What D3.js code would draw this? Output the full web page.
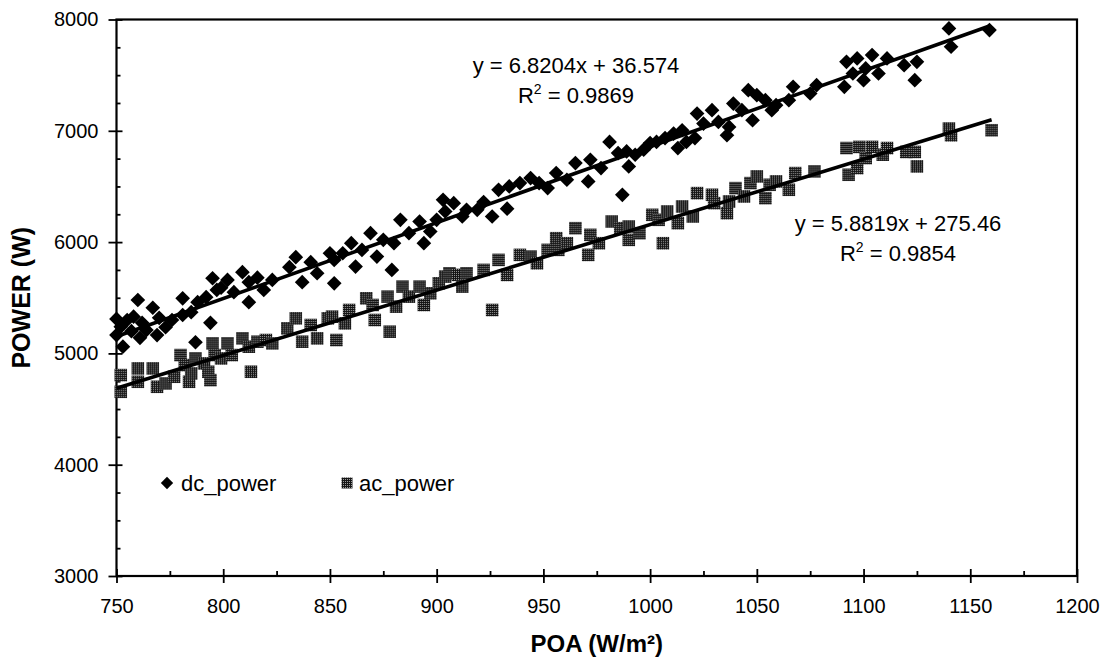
<!DOCTYPE html>
<html>
<head>
<meta charset="utf-8">
<script src="https://cdn.jsdelivr.net/npm/d3@7"></script>
<style>
  body { margin: 0; background: #fff; }
  svg { display: block; font-family: "Liberation Sans", Arial, sans-serif; }
</style>
</head>
<body>
<div id="chart"></div>
<script>
// dc_power readings (POA, W)
const dcPoa = [750, 750, 753, 752, 755, 757, 758, 760, 761, 762, 764, 767, 769, 770, 773, 776, 781, 781, 785, 787, 788, 792, 794, 795, 797, 799, 802, 805, 809, 812, 812, 816, 819, 823, 831, 834, 837, 841, 844, 850, 852, 852, 856, 860, 862, 865, 869, 872, 875, 879, 880, 883, 887, 892, 894, 897, 900, 903, 904, 908, 912, 914, 919, 922, 926, 929, 933, 934, 939, 944, 948, 952, 956, 961, 965, 971, 972, 977, 981, 985, 987, 989, 990, 993, 997, 1000, 1003, 1007, 1011, 1013, 1015, 1017, 1021, 1022, 1025, 1029, 1032, 1036, 1037, 1039, 1043, 1046, 1048, 1050, 1054, 1057, 1059, 1065, 1067, 1075, 1078, 1091, 1092, 1095, 1097, 1100, 1101, 1104, 1107, 1111, 1119, 1124, 1125, 1140, 1141, 1159]
const dcPower = [5310, 5165, 5060, 5240, 5300, 5200, 5330, 5480, 5140, 5275, 5210, 5410, 5165, 5320, 5235, 5300, 5495, 5345, 5370, 5100, 5460, 5505, 5275, 5675, 5570, 5590, 5660, 5550, 5730, 5640, 5460, 5680, 5570, 5660, 5775, 5865, 5640, 5820, 5720, 5900, 5630, 5840, 5900, 5990, 5780, 5930, 6080, 5870, 6020, 5750, 5990, 6200, 6080, 6185, 5990, 6095, 6200, 6380, 6275, 6350, 6230, 6290, 6290, 6360, 6230, 6470, 6300, 6500, 6530, 6575, 6530, 6485, 6620, 6560, 6710, 6545, 6740, 6665, 6900, 6800, 6425, 6815, 6680, 6785, 6830, 6890, 6900, 6935, 6975, 6845, 7005, 6900, 6935, 7155, 7065, 7185, 7080, 6960, 7035, 7245, 7185, 7365, 7095, 7320, 7275, 7185, 7230, 7275, 7395, 7335, 7410, 7395, 7620, 7515, 7650, 7455, 7560, 7680, 7515, 7650, 7590, 7455, 7620, 7920, 7755, 7905]

// ac_power readings (POA, W)
const acPoa = [752, 752, 760, 760, 767, 769, 773, 777, 780, 782, 784, 785, 787, 791, 793, 794, 795, 796, 799, 802, 804, 809, 812, 813, 816, 820, 823, 830, 834, 837, 841, 844, 849, 851, 853, 857, 859, 867, 870, 871, 877, 878, 881, 884, 887, 892, 894, 897, 901, 904, 906, 910, 912, 914, 922, 926, 929, 933, 939, 944, 947, 952, 956, 957, 961, 965, 971, 972, 976, 982, 986, 990, 990, 995, 1001, 1004, 1006, 1008, 1013, 1015, 1020, 1022, 1029, 1030, 1036, 1037, 1040, 1044, 1047, 1050, 1054, 1056, 1059, 1065, 1068, 1077, 1092, 1093, 1097, 1098, 1101, 1104, 1109, 1111, 1120, 1124, 1125, 1140, 1141, 1160]
const acPower = [4805, 4655, 4865, 4745, 4865, 4700, 4730, 4790, 4985, 4895, 4745, 4820, 4955, 4910, 4835, 4760, 5090, 4985, 4955, 5090, 4985, 5135, 5060, 4835, 5105, 5120, 5090, 5225, 5315, 5105, 5255, 5135, 5315, 5330, 5120, 5270, 5390, 5495, 5435, 5300, 5510, 5195, 5420, 5600, 5510, 5600, 5435, 5540, 5630, 5690, 5720, 5705, 5600, 5720, 5750, 5390, 5840, 5705, 5885, 5870, 5810, 5930, 6035, 5930, 5990, 6125, 5885, 6065, 5990, 6185, 6125, 6140, 6020, 6080, 6245, 6200, 5990, 6275, 6170, 6320, 6230, 6440, 6425, 6350, 6260, 6365, 6485, 6410, 6530, 6590, 6395, 6515, 6545, 6470, 6620, 6635, 6845, 6605, 6665, 6855, 6755, 6855, 6785, 6845, 6810, 6810, 6680, 7020, 6960, 7005]

// linear trendlines: [dc, ac]
const trendNames = ['dc_power', 'ac_power']
const trendSlope = [6.8204, 5.8819]
const trendIntercept = [36.574, 275.46]
const trendR2 = ['0.9869', '0.9854']
const trendFrom = [750, 750]
const trendTo = [1159, 1160]

const xTicks = [750, 800, 850, 900, 950, 1000, 1050, 1100, 1150, 1200]
const yTicks = [3000, 4000, 5000, 6000, 7000, 8000]

const width = 1104, height = 662
const margin = { top: 19.5, right: 27, bottom: 86, left: 116.5 }

const svg = d3.select('#chart').append('svg')
    .attr('width', width)
    .attr('height', height)

// stippled fill like the scanned gray squares
const defs = svg.append('defs')
const pat = defs.append('pattern')
    .attr('id', 'stipple')
    .attr('patternUnits', 'userSpaceOnUse')
    .attr('width', 2).attr('height', 2)
pat.append('rect').attr('width', 2).attr('height', 2).attr('fill', '#141414')
pat.append('rect').attr('width', 1).attr('height', 1).attr('fill', '#9a9a9a')

const x = d3.scaleLinear()
    .domain([750, 1200])
    .range([margin.left, width - margin.right])
const y = d3.scaleLinear()
    .domain([3000, 8000])
    .range([height - margin.bottom, margin.top])

// frame
svg.append('rect')
    .attr('x', x(750)).attr('y', y(8000))
    .attr('width', x(1200) - x(750))
    .attr('height', y(3000) - y(8000))
    .attr('fill', 'none')
    .attr('stroke', '#000')
    .attr('stroke-width', 2.2)

function styleAxis(g) {
    g.select('.domain').remove()
    g.selectAll('line').attr('stroke', '#000').attr('stroke-width', 1.8)
    g.selectAll('text').attr('fill', '#000').attr('font-size', '20px')
        .attr('font-family', '"Liberation Sans", Arial, sans-serif')
}

// y axis: labels + outer ticks, inner half of the cross ticks, minor ticks
svg.append('g')
    .attr('transform', `translate(${x(750)},0)`)
    .call(d3.axisLeft(y).tickValues(yTicks).tickSize(8).tickPadding(10).tickFormat(d3.format('d')))
    .call(styleAxis)
svg.append('g')
    .attr('transform', `translate(${x(750)},0)`)
    .call(d3.axisRight(y).tickValues(yTicks).tickSize(6).tickFormat(''))
    .call(styleAxis)
svg.append('g')
    .attr('transform', `translate(${x(750)},0)`)
    .call(d3.axisRight(y).tickValues(d3.range(3250, 8000, 250).filter(v => v % 1000 !== 0)).tickSize(4).tickFormat(''))
    .call(styleAxis)

// x axis
svg.append('g')
    .attr('transform', `translate(0,${y(3000)})`)
    .call(d3.axisBottom(x).tickValues(xTicks).tickSize(7).tickPadding(16).tickFormat(d3.format('d')))
    .call(styleAxis)
svg.append('g')
    .attr('transform', `translate(0,${y(3000)})`)
    .call(d3.axisTop(x).tickValues(xTicks).tickSize(7).tickFormat(''))
    .call(styleAxis)
svg.append('g')
    .attr('transform', `translate(0,${y(3000)})`)
    .call(d3.axisTop(x).tickValues(d3.range(775, 1200, 50)).tickSize(5).tickFormat(''))
    .call(styleAxis)

// axis titles
svg.append('text')
    .attr('x', (x(750) + x(1200)) / 2)
    .attr('y', 652)
    .attr('text-anchor', 'middle')
    .attr('font-size', '24px')
    .attr('font-weight', 'bold')
    .text('POA (W/m²)')
svg.append('text')
    .attr('transform', `translate(30,${(y(3000) + y(8000)) / 2}) rotate(-90)`)
    .attr('text-anchor', 'middle')
    .attr('font-size', '25px')
    .attr('font-weight', 'bold')
    .text('POWER (W)')

// points
const diamond = d3.symbol(d3.symbolSquare, 108)
const square = d3.symbol(d3.symbolSquare, 158)

svg.append('g')
    .selectAll('path')
    .data(d3.range(acPoa.length))
    .join('path')
    .attr('d', square)
    .attr('transform', i => `translate(${x(acPoa[i])},${y(acPower[i])})`)
    .attr('fill', 'url(#stipple)')

svg.append('g')
    .selectAll('path')
    .data(d3.range(dcPoa.length))
    .join('path')
    .attr('d', diamond)
    .attr('transform', i => `translate(${x(dcPoa[i])},${y(dcPower[i])}) rotate(45)`)
    .attr('fill', '#000')

// trendlines
const line = d3.line().x(d => x(d[0])).y(d => y(d[1]))
trendNames.forEach((name, k) => {
    const pts = [trendFrom[k], trendTo[k]].map(v => [v, trendSlope[k] * v + trendIntercept[k]])
    svg.append('path')
        .attr('d', line(pts))
        .attr('stroke', '#000')
        .attr('stroke-width', 3.6)
        .attr('fill', 'none')
})

// equation labels
const eqPos = [[576, 73], [898, 231]]
trendNames.forEach((name, k) => {
    const g = svg.append('g').attr('font-size', '22px').attr('text-anchor', 'middle')
    g.append('text')
        .attr('x', eqPos[k][0]).attr('y', eqPos[k][1])
        .text(`y = ${trendSlope[k]}x + ${trendIntercept[k]}`)
    const r = g.append('text')
        .attr('x', eqPos[k][0]).attr('y', eqPos[k][1] + 30)
    r.append('tspan').text('R')
    r.append('tspan').attr('dy', -9).attr('font-size', '14px').text('2')
    r.append('tspan').attr('dy', 9).text(` = ${trendR2[k]}`)
})

// legend
const legend = svg.append('g').attr('font-size', '22px')
legend.append('path')
    .attr('d', d3.symbol(d3.symbolSquare, 76))
    .attr('transform', 'translate(167,483) rotate(45)')
    .attr('fill', '#000')
legend.append('text').attr('x', 181).attr('y', 491).text(trendNames[0])
legend.append('path')
    .attr('d', d3.symbol(d3.symbolSquare, 120))
    .attr('transform', 'translate(347,483)')
    .attr('fill', 'url(#stipple)')
legend.append('text').attr('x', 359).attr('y', 491).text(trendNames[1])
</script>
</body>
</html>
